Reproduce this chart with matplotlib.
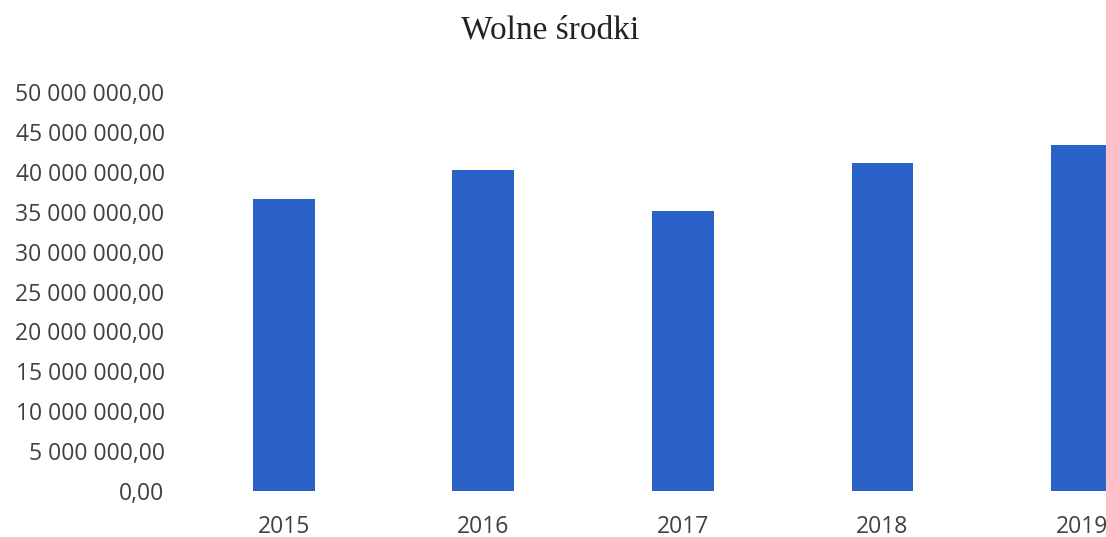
import matplotlib
matplotlib.use("Agg")
import matplotlib.pyplot as plt
from matplotlib.ticker import FuncFormatter, MultipleLocator

# dane
lata = ["2015", "2016", "2017", "2018", "2019"]
wolne_srodki = [36_550_000, 40_200_000, 35_050_000, 41_100_000, 43_300_000]

KOLOR = "#2B62C8"
SZARY = "#404040"

def fmt_pl(v, pos=None):
    s = f"{v:,.2f}"
    return s.replace(",", " ").replace(".", ",")

fig = plt.figure(figsize=(11.06, 5.37), dpi=100)
ax = fig.add_axes([184 / 1106, 46 / 537, 1 - 184 / 1106, 399 / 537])

x = range(len(lata))
ax.bar(x, wolne_srodki, width=0.31, color=KOLOR)

ax.set_xlim(-0.5, 4.12)
ax.set_ylim(0, 50_000_000)
ax.yaxis.set_major_locator(MultipleLocator(5_000_000))
ax.yaxis.set_major_formatter(FuncFormatter(fmt_pl))
ax.set_xticks(list(x))
ax.set_xticklabels(lata)

for sp in ax.spines.values():
    sp.set_visible(False)
ax.tick_params(axis="both", length=0, colors=SZARY, labelsize=16.5)
ax.tick_params(axis="y", pad=14)
ax.tick_params(axis="x", pad=17)
for lab in ax.get_xticklabels() + ax.get_yticklabels():
    lab.set_fontfamily("Open Sans")

fig.text(550 / 1106, 1 - 30 / 537, "Wolne środki", ha="center", va="center",
         fontsize=24, family="Liberation Serif", color="#222222")

fig.savefig("out.png", dpi=100)
